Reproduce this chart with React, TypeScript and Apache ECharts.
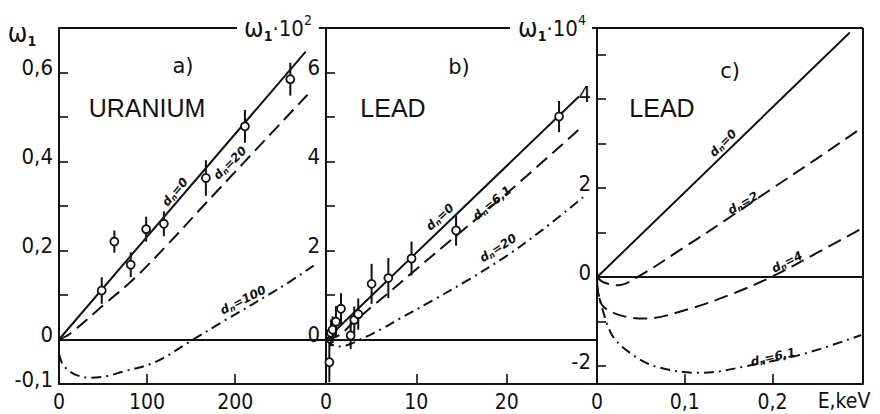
import React, { useEffect, useRef } from "react";
import * as echarts from "echarts";

// ---------- Panel a: URANIUM (E in eV, omega_1) ----------
const aPtsX = [48.5, 62.8, 81.4, 98.9, 119, 166.7, 211, 262.5];
const aPtsY = [0.11, 0.22, 0.168, 0.248, 0.26, 0.363, 0.479, 0.585];
const aPtsErr = [0.03, 0.025, 0.028, 0.028, 0.028, 0.04, 0.037, 0.037];
const aSolid = [[0, 0], [280, 0.647]];
const aDashed = [[0, 0], [12.5, 0.013], [52, 0.08], [86, 0.138], [124, 0.215], [166, 0.305], [282, 0.55]];
const aDashDot = [[0, -0.032], [4, -0.055], [10.6, -0.069], [20, -0.08], [36, -0.086], [55, -0.082], [71, -0.073], [109, -0.051], [150.7, -0.002], [184.8, 0.039], [250, 0.115], [289, 0.166]];

// ---------- Panel b: LEAD (E in eV, omega_1 * 10^2) ----------
const bPtsX = [0.37, 0.55, 0.74, 1.1, 1.66, 2.73, 3.13, 3.57, 5.05, 6.9, 9.47, 14.4, 25.8];
const bPtsY = [-0.51, 0.15, 0.22, 0.4, 0.69, 0.09, 0.44, 0.57, 1.25, 1.38, 1.82, 2.45, 5.01];
const bPtsErr = [0.45, 0.3, 0.3, 0.35, 0.35, 0.3, 0.3, 0.35, 0.45, 0.45, 0.38, 0.34, 0.35];
const bSolid = [[0, 0], [28, 5.46]];
const bDashed = [[0, 0], [1.5, 0.1], [3, 0.38], [4.8, 0.69], [7, 1.06], [10, 1.58], [14.4, 2.33], [20, 3.28], [28.5, 4.81]];
const bDashDot = [[0, 0], [0.5, -0.1], [1.5, -0.16], [2.7, -0.1], [3.8, 0], [6, 0.22], [8, 0.45], [12, 0.9], [16, 1.37], [20, 1.88], [24, 2.47], [28.6, 3.22]];

// ---------- Panel c: LEAD (E in keV, omega_1 * 10^4) ----------
const cSolid = [[0, 0], [0.288, 5.5]];
const cDashed2 = [[0, 0], [0.008, -0.12], [0.024, -0.18], [0.046, 0], [0.1, 0.68], [0.15, 1.33], [0.2, 2.0], [0.25, 2.66], [0.301, 3.35]];
const cDashed4 = [[0, 0], [0.005, -0.6], [0.024, -0.84], [0.054, -0.93], [0.107, -0.7], [0.156, -0.36], [0.198, 0], [0.251, 0.55], [0.301, 1.09]];
const cDashDot = [[0, -0.22], [0.016, -1.26], [0.039, -1.72], [0.069, -2.02], [0.118, -2.15], [0.175, -1.98], [0.236, -1.72], [0.301, -1.3]];

// axis ticks / labels
const aXLabels = [0, 100, 200];
const aXTicks = [100, 200];
const aYLabels = [-0.1, 0, 0.2, 0.4, 0.6];
const aYTicks = [0.1, 0.2, 0.3, 0.4, 0.5, 0.6];
const bXLabels = [0, 10, 20];
const bXTicks = [10, 20];
const bYLabels = [0, 2, 4, 6];
const bYTicks = [1, 2, 3, 4, 5, 6];
const cXLabels = [0, 0.1, 0.2];
const cXTicks = [0.1, 0.2];
const cYLabels = [-2, 0, 2, 4];
const cYTicks = [-2, -1, 1, 2, 3, 4, 5];

const NUM_FONT = "'Liberation Sans Narrow', 'DejaVu Sans Condensed', 'Liberation Sans', sans-serif";
const BLACK = "#111";

function pts(xs: number[], ys: number[], es: number[]) {
  return xs.map((x, i) => [x, ys[i], es[i]]);
}

export default function App() {
  const ref = useRef<HTMLDivElement>(null);
  useEffect(() => {
    if (!ref.current) return;
    const chart = echarts.init(ref.current, undefined, { renderer: "svg" });
    const grids = [
      { left: 59, top: 28, width: 267, height: 356 },
      { left: 326, top: 28, width: 271, height: 356 },
      { left: 597, top: 28, width: 266, height: 356 },
    ];
    const fmt = (v: number) => String(v).replace(".", ",");
    const xAxisBase = (gi: number, max: number, labels: number[], ticks: number[]) => ({
      type: "value",
      gridIndex: gi,
      min: 0,
      max,
      axisLine: { show: true, onZero: false, lineStyle: { color: BLACK, width: 2 } },
      axisTick: { show: true, inside: true, length: 10, lineStyle: { color: BLACK, width: 1.6 }, customValues: ticks },
      axisLabel: {
        show: true, customValues: labels, formatter: fmt, color: BLACK,
        fontSize: 21, fontFamily: NUM_FONT, margin: 8, lineHeight: 20,
      },
      splitLine: { show: false },
    });
    const yAxisBase = (gi: number, min: number, max: number, labels: number[], ticks: number[]) => ({
      type: "value",
      gridIndex: gi,
      min,
      max,
      axisLine: { show: true, onZero: false, lineStyle: { color: BLACK, width: 2 } },
      axisTick: { show: true, inside: true, length: 9, lineStyle: { color: BLACK, width: 1.6 }, customValues: ticks },
      axisLabel: {
        show: true, customValues: labels, formatter: fmt, color: BLACK,
        fontSize: 22, fontFamily: NUM_FONT, margin: 6, verticalAlign: "bottom", lineHeight: 10,
      },
      splitLine: { show: false },
    });

    const zeroLine = {
      silent: true,
      symbol: ["none", "none"],
      label: { show: false },
      lineStyle: { type: "solid", color: BLACK, width: 1.8 },
      data: [{ yAxis: 0 }],
    };
    const lineS = (gi: number, data: number[][], type: any, withZero = false) => ({
      type: "line",
      xAxisIndex: gi,
      yAxisIndex: gi,
      data,
      showSymbol: false,
      smooth: 0.35,
      lineStyle: { color: BLACK, width: 2, type },
      markLine: withZero ? zeroLine : undefined,
      z: 3,
    });
    const errS = (gi: number, data: number[][]) => ({
      type: "custom",
      xAxisIndex: gi,
      yAxisIndex: gi,
      data,
      z: 5,
      renderItem: (params: any, api: any) => {
        const x = api.value(0), y = api.value(1), e = api.value(2);
        const c = api.coord([x, y]);
        const t = api.coord([x, y + e]);
        const b = api.coord([x, y - e]);
        return {
          type: "group",
          children: [
            { type: "line", shape: { x1: t[0], y1: t[1], x2: b[0], y2: b[1] }, style: { stroke: BLACK, lineWidth: 2 } },
            { type: "circle", shape: { cx: c[0], cy: c[1], r: 4 }, style: { fill: "#fff", stroke: BLACK, lineWidth: 1.8 } },
          ],
        };
      },
    });

    const DASH = [14, 7];
    const DASHDOT = [10, 5, 2, 5];

    const curveLabel = (text: string, x: number, y: number, deg: number) => ({
      type: "text",
      x, y,
      rotation: (deg * Math.PI) / 180,
      style: {
        text,
        rich: {
          d: { fontSize: 12, fontWeight: "bold", fontStyle: "italic", fontFamily: "'DejaVu Sans', sans-serif", fill: BLACK, verticalAlign: "middle", lineHeight: 14 },
          n: { fontSize: 8, fontWeight: "bold", fontStyle: "italic", fontFamily: "'DejaVu Sans', sans-serif", fill: BLACK, verticalAlign: "bottom", lineHeight: 14 },
        },
        fill: BLACK,
        textAlign: "center",
        textVerticalAlign: "middle",
      },
    });
    const bigText = (text: string, x: number, y: number, size: number, family = "'Liberation Sans', sans-serif") => ({
      type: "text",
      x, y,
      style: { text, fontSize: size, fontFamily: family, fill: BLACK, textAlign: "center", textVerticalAlign: "middle", lineHeight: size },
    });
    const omegaRich = {
      w: { fontSize: 26, fontFamily: NUM_FONT, lineHeight: 30, verticalAlign: "middle" },
      n: { fontSize: 22, fontFamily: NUM_FONT, lineHeight: 30, verticalAlign: "middle" },
      s: { fontSize: 14, fontFamily: NUM_FONT, lineHeight: 30, verticalAlign: "bottom", fontWeight: "bold" },
      p: { fontSize: 14, fontFamily: NUM_FONT, lineHeight: 30, verticalAlign: "top" },
    };
    const omegaText = (text: string, x: number, y: number) => ({
      type: "text",
      x, y,
      style: { text, rich: omegaRich, fill: BLACK, textAlign: "center", textVerticalAlign: "middle", fontSize: 22 },
    });
    const hline = (x1: number, x2: number, y: number) => ({
      type: "line", shape: { x1, y1: y, x2, y2: y }, style: { stroke: BLACK, lineWidth: 2 },
    });
    const vline = (x: number, y1: number, y2: number) => ({
      type: "line", shape: { x1: x, y1, x2: x, y2 }, style: { stroke: BLACK, lineWidth: 2 },
    });

    chart.setOption({
      animation: false,
      backgroundColor: "#fff",
      grid: grids,
      xAxis: [
        xAxisBase(0, 303, aXLabels, aXTicks),
        xAxisBase(1, 30, bXLabels, bXTicks),
        xAxisBase(2, 0.303, cXLabels, cXTicks),
      ],
      yAxis: [
        yAxisBase(0, -0.1, 0.7, aYLabels, aYTicks),
        yAxisBase(1, -1, 7, bYLabels, bYTicks),
        yAxisBase(2, -2.4, 5.6, cYLabels, cYTicks),
      ],
      series: [
        lineS(0, aSolid, "solid", true),
        lineS(0, aDashed, DASH),
        lineS(0, aDashDot, DASHDOT),
        errS(0, pts(aPtsX, aPtsY, aPtsErr)),
        lineS(1, bSolid, "solid", true),
        lineS(1, bDashed, DASH),
        lineS(1, bDashDot, DASHDOT),
        errS(1, pts(bPtsX, bPtsY, bPtsErr)),
        lineS(2, cSolid, "solid", true),
        lineS(2, cDashed2, DASH),
        lineS(2, cDashed4, DASH),
        lineS(2, cDashDot, DASHDOT),
      ],
      graphic: [
        hline(59, 237, 28),
        hline(319, 326, 28),
        hline(326, 510, 28),
        hline(592, 597, 28),
        hline(597, 863, 28),
        vline(863, 28, 384),
        omegaText("{w|ω}{s|1}", 22, 33),
        omegaText("{w|ω}{s|1}{n|·10}{p|2}", 278, 28),
        omegaText("{w|ω}{s|1}{n|·10}{p|4}", 552, 28),
        bigText("a)", 183, 66, 21, "'DejaVu Sans', sans-serif"),
        bigText("b)", 459, 67, 21, "'DejaVu Sans', sans-serif"),
        bigText("c)", 730, 71, 21, "'DejaVu Sans', sans-serif"),
        bigText("URANIUM", 147, 108, 25),
        bigText("LEAD", 393, 108, 25),
        bigText("LEAD", 662, 108, 25),
        bigText("E,keV", 844, 401, 21, NUM_FONT),
        curveLabel("{d|d}{n|n}{d|=0}", 175, 192, 50),
        curveLabel("{d|d}{n|n}{d|=20}", 230, 163, 45),
        curveLabel("{d|d}{n|n}{d|=100}", 243, 300, 27),
        curveLabel("{d|d}{n|n}{d|=0}", 440, 217, 42),
        curveLabel("{d|d}{n|n}{d|=6,1}", 492, 203, 40),
        curveLabel("{d|d}{n|n}{d|=20}", 498, 248, 33),
        curveLabel("{d|d}{n|n}{d|=0}", 723, 143, 45),
        curveLabel("{d|d}{n|n}{d|=2}", 743, 203, 30),
        curveLabel("{d|d}{n|n}{d|=4}", 787, 262, 27),
        curveLabel("{d|d}{n|n}{d|=6,1}", 773, 357, 13),
      ],
    });
    return () => chart.dispose();
  }, []);
  return <div ref={ref} style={{ position: "fixed", left: 0, top: 0, width: 880, height: 414 }} />;
}
